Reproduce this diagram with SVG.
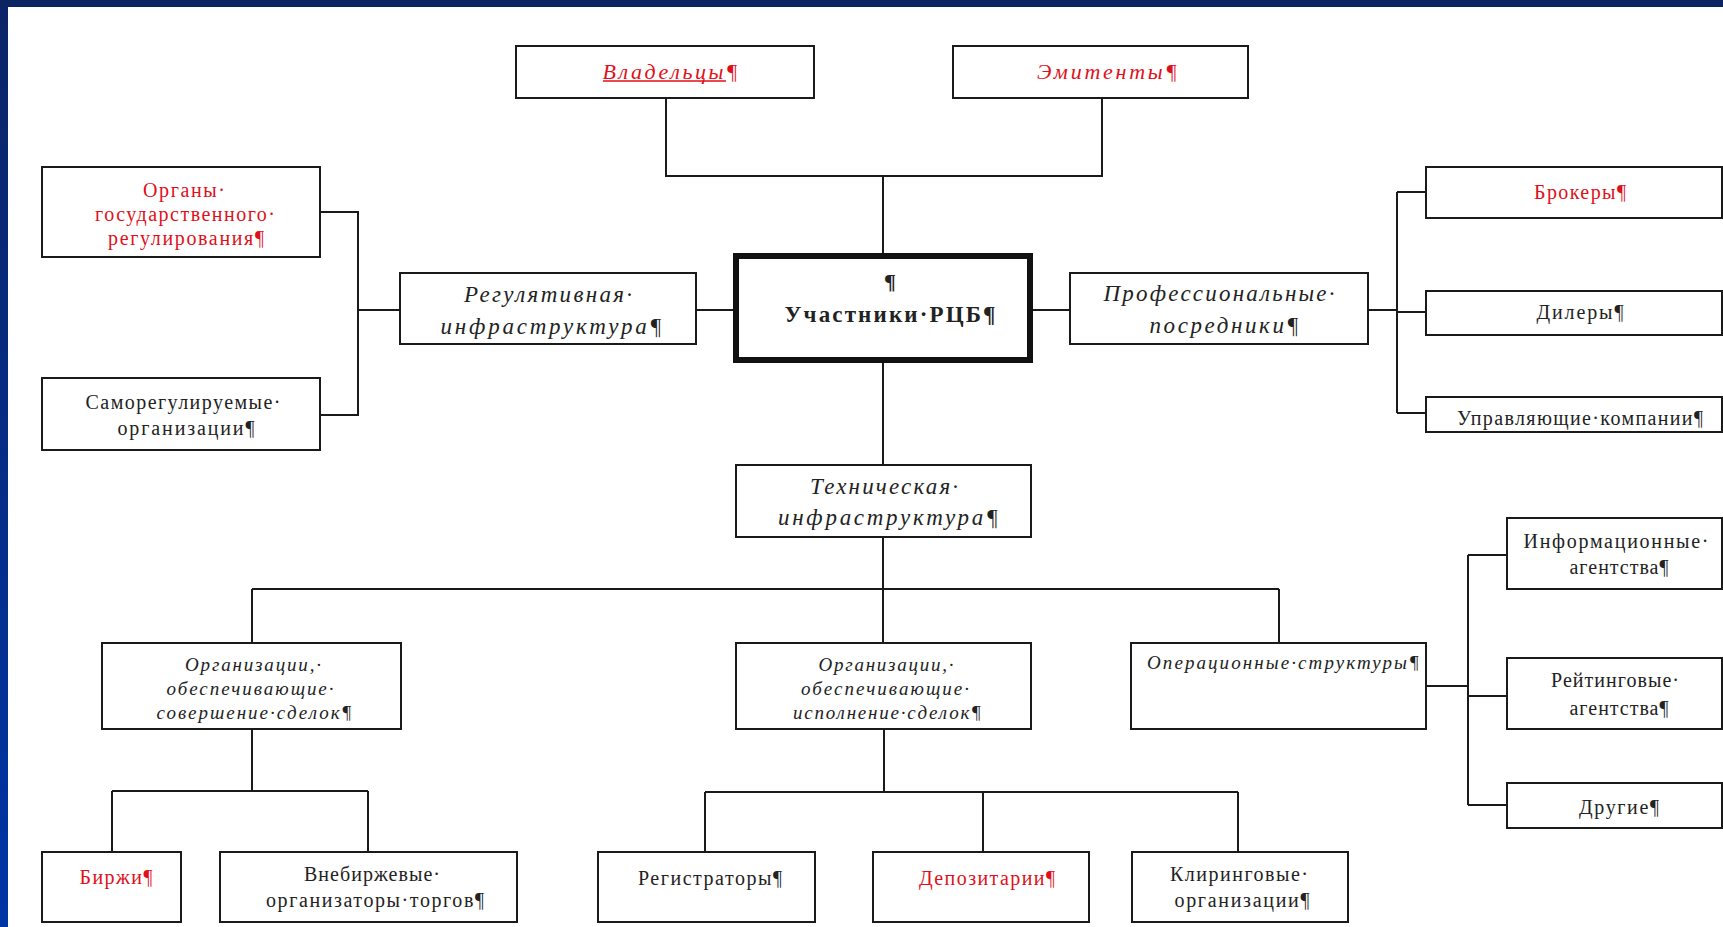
<svg xmlns="http://www.w3.org/2000/svg" width="1723" height="927" viewBox="0 0 1723 927">
<defs>
<linearGradient id="lb" x1="0" y1="0" x2="0" y2="1">
<stop offset="0" stop-color="#0b2466"/>
<stop offset="1" stop-color="#0035a6"/>
</linearGradient>
<style>
.b{fill:#fff;stroke:#1a1a1a;stroke-width:2}
.c{fill:none;stroke:#1a1a1a;stroke-width:2}
text{font-family:"Liberation Serif","Times New Roman",serif;fill:#222;text-anchor:middle;dominant-baseline:central}
.r{fill:#e0101a}
.i{font-style:italic}
.h{font-size:23px}
.n{font-size:20px}
.s{font-size:19px}
</style>
</defs>
<rect x="0" y="0" width="1723" height="927" fill="#fff"/>
<rect x="0" y="0" width="8" height="927" fill="url(#lb)"/>
<rect x="0" y="0" width="1723" height="7" fill="#0d2463"/>

<g id="connectors">
<path class="c" d="M666,98 V176 H1102 V98 M883,176 V253"/>
<path class="c" d="M320,212 H358 V415 H320 M358,310 H400 M696,310 H733"/>
<path class="c" d="M1033,310 H1070 M1368,310 H1397 M1397,192 V413 M1397,192 H1426 M1397,312 H1426 M1397,413 H1426"/>
<path class="c" d="M883,363 V465 M883,537 V643 M252,589 H1279 M252,589 V643 M1279,589 V643"/>
<path class="c" d="M252,729 V791 M112,791 H368 M112,791 V852 M368,791 V852"/>
<path class="c" d="M884,729 V792 M705,792 H1238 M705,792 V852 M983,792 V852 M1238,792 V852"/>
<path class="c" d="M1426,686 H1468 M1468,555 V805 M1468,555 H1507 M1468,696 H1507 M1468,805 H1507"/>
</g>

<g id="vladeltsy">
<rect class="b" x="516" y="46" width="298" height="52"/>
<text class="i r" x="670" y="71" font-size="22" textLength="135" lengthAdjust="spacing">Владельцы¶</text>
<line x1="603" y1="81" x2="726" y2="81" stroke="#e0101a" stroke-width="1.5"/>
</g>
<g id="emitenty">
<rect class="b" x="953" y="46" width="295" height="52"/>
<text class="i r" x="1107" y="71" font-size="22" textLength="140" lengthAdjust="spacing">Эмитенты¶</text>
</g>
<g id="uchastniki">
<rect x="736" y="256" width="294" height="104" fill="#fff" stroke="#111" stroke-width="6"/>
<text x="890" y="281" font-size="22" font-weight="bold">¶</text>
<text x="890" y="314" font-size="23" font-weight="bold" textLength="211" lengthAdjust="spacing">Участники·РЦБ¶</text>
</g>
<g id="organy">
<rect class="b" x="42" y="167" width="278" height="90"/>
<text class="n r" x="184" y="190" textLength="82" lengthAdjust="spacing">Органы·</text>
<text class="n r" x="185" y="214" textLength="180" lengthAdjust="spacing">государственного·</text>
<text class="n r" x="186" y="238" textLength="156" lengthAdjust="spacing">регулирования¶</text>
</g>
<g id="sro">
<rect class="b" x="42" y="378" width="278" height="72"/>
<text class="n" x="183" y="402" textLength="195" lengthAdjust="spacing">Саморегулируемые·</text>
<text class="n" x="186" y="428" textLength="137" lengthAdjust="spacing">организации¶</text>
</g>
<g id="regul">
<rect class="b" x="400" y="273" width="296" height="71"/>
<text class="h i" x="548" y="294" textLength="168" lengthAdjust="spacing">Регулятивная·</text>
<text class="h i" x="551" y="326" textLength="221" lengthAdjust="spacing">инфраструктура¶</text>
</g>
<g id="prof">
<rect class="b" x="1070" y="273" width="298" height="71"/>
<text class="h i" x="1219" y="293" textLength="231" lengthAdjust="spacing">Профессиональные·</text>
<text class="h i" x="1224" y="325" textLength="149" lengthAdjust="spacing">посредники¶</text>
</g>
<g id="brokery">
<rect class="b" x="1426" y="167" width="296" height="51"/>
<text class="n r" x="1580" y="192" textLength="92" lengthAdjust="spacing">Брокеры¶</text>
</g>
<g id="dilery">
<rect class="b" x="1426" y="291" width="296" height="44"/>
<text class="n" x="1580" y="312" textLength="87" lengthAdjust="spacing">Дилеры¶</text>
</g>
<g id="upravl">
<rect class="b" x="1426" y="397" width="296" height="35"/>
<text class="n" x="1580" y="418" textLength="246" lengthAdjust="spacing">Управляющие·компании¶</text>
</g>
<g id="tech">
<rect class="b" x="736" y="465" width="295" height="72"/>
<text class="h i" x="884" y="486" textLength="148" lengthAdjust="spacing">Техническая·</text>
<text class="h i" x="888" y="517" textLength="220" lengthAdjust="spacing">инфраструктура¶</text>
</g>
<g id="org_sov">
<rect class="b" x="102" y="643" width="299" height="86"/>
<text class="s i" x="253" y="664" textLength="136" lengthAdjust="spacing">Организации,·</text>
<text class="s i" x="250" y="688" textLength="167" lengthAdjust="spacing">обеспечивающие·</text>
<text class="s i" x="254" y="712" textLength="195" lengthAdjust="spacing">совершение·сделок¶</text>
</g>
<g id="org_isp">
<rect class="b" x="736" y="643" width="295" height="86"/>
<text class="s i" x="886" y="664" textLength="135" lengthAdjust="spacing">Организации,·</text>
<text class="s i" x="885" y="688" textLength="168" lengthAdjust="spacing">обеспечивающие·</text>
<text class="s i" x="887" y="712" textLength="188" lengthAdjust="spacing">исполнение·сделок¶</text>
</g>
<g id="oper">
<rect class="b" x="1131" y="643" width="295" height="86"/>
<text class="s i" x="1283" y="662" textLength="272" lengthAdjust="spacing">Операционные·структуры¶</text>
</g>
<g id="info">
<rect class="b" x="1507" y="518" width="215" height="71"/>
<text class="n" x="1616" y="541" textLength="185" lengthAdjust="spacing">Информационные·</text>
<text class="n" x="1619" y="567" textLength="99" lengthAdjust="spacing">агентства¶</text>
</g>
<g id="reiting">
<rect class="b" x="1507" y="658" width="215" height="71"/>
<text class="n" x="1615" y="680" textLength="128" lengthAdjust="spacing">Рейтинговые·</text>
<text class="n" x="1619" y="708" textLength="99" lengthAdjust="spacing">агентства¶</text>
</g>
<g id="drugie">
<rect class="b" x="1507" y="783" width="215" height="45"/>
<text class="n" x="1619" y="807" textLength="80" lengthAdjust="spacing">Другие¶</text>
</g>
<g id="birzhi">
<rect class="b" x="42" y="852" width="139" height="70"/>
<text class="n r" x="116" y="877" textLength="73" lengthAdjust="spacing">Биржи¶</text>
</g>
<g id="vnebirzh">
<rect class="b" x="220" y="852" width="297" height="70"/>
<text class="n" x="372" y="874" textLength="136" lengthAdjust="spacing">Внебиржевые·</text>
<text class="n" x="375" y="900" textLength="218" lengthAdjust="spacing">организаторы·торгов¶</text>
</g>
<g id="registr">
<rect class="b" x="598" y="852" width="217" height="70"/>
<text class="n" x="710" y="878" textLength="144" lengthAdjust="spacing">Регистраторы¶</text>
</g>
<g id="depoz">
<rect class="b" x="873" y="852" width="216" height="70"/>
<text class="n r" x="987" y="878" textLength="136" lengthAdjust="spacing">Депозитарии¶</text>
</g>
<g id="kliring">
<rect class="b" x="1132" y="852" width="216" height="70"/>
<text class="n" x="1239" y="874" textLength="138" lengthAdjust="spacing">Клиринговые·</text>
<text class="n" x="1242" y="900" textLength="135" lengthAdjust="spacing">организации¶</text>
</g>
</svg>
